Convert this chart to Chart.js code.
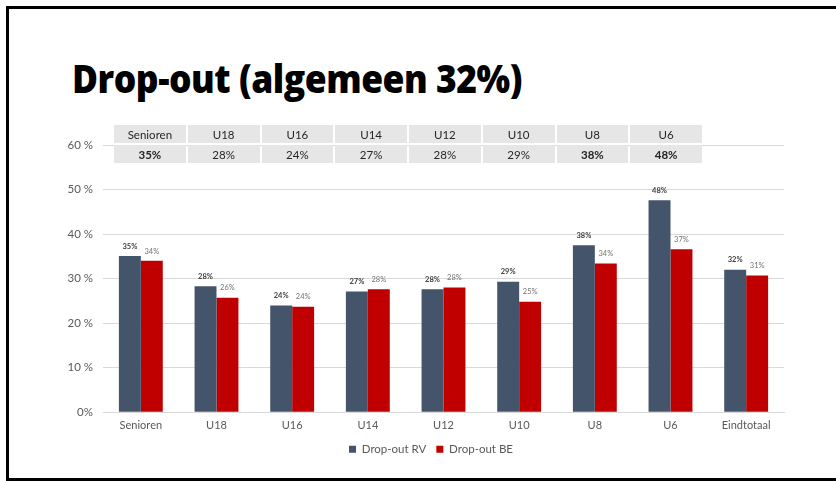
<!DOCTYPE html>
<html lang="nl">
<head>
  <meta charset="utf-8"/>
  <title>Drop-out (algemeen 32%)</title>
  <script src="https://cdn.jsdelivr.net/npm/chart.js"></script>
  <style>
    html,body{margin:0;padding:0;background:#fff;width:836px;height:481px;overflow:hidden}
    .frame{position:absolute;left:6px;top:6px;width:900px;height:475px;border:3px solid #000;box-sizing:border-box}
    #title{position:absolute;left:72px;top:52px;font-family:"Open Sans",sans-serif;font-weight:800;font-size:38px;color:#000;white-space:nowrap;transform-origin:left top;letter-spacing:-0.5px}
    .chart-box{position:absolute;left:0;top:0;width:836px;height:481px}
    table{position:absolute;left:114px;top:125px;border-collapse:separate;border-spacing:2px 2px;margin:-2px;font-family:Lato,sans-serif;font-size:11.5px;color:#262626}
    td{background:#e7e6e6;width:71.75px;height:18px;padding:0;text-align:center}
    td.b{font-weight:700}
  </style>
</head>
<body>
<div class="frame"></div>
<div id="title">Drop-out (algemeen 32%)</div>
<div class="chart-box"><canvas id="chart" width="836" height="481"></canvas></div>
<table id="tbl"><tr id="headRow"></tr><tr id="valRow"></tr></table>

<script>
const categories=['Senioren','U18','U16','U14','U12','U10','U8','U6','Eindtotaal'];
const dropoutRV=[35.1,28.3,24.0,27.1,27.6,29.3,37.5,47.6,32.0];
const dropoutBE=[34.0,25.7,23.7,27.6,28.0,24.8,33.4,36.6,30.7];
const labelsRV=['35%','28%','24%','27%','28%','29%','38%','48%','32%'];
const labelsBE=['34%','26%','24%','28%','28%','25%','34%','37%','31%'];
const yTickLabels=['0%','10 %','20 %','30 %','40 %','50 %','60 %'];
const tableHeads=['Senioren','U18','U16','U14','U12','U10','U8','U6'];
const tableVals=['35%','28%','24%','27%','28%','29%','38%','48%'];
const tableBold=[true,false,false,false,false,false,true,true];

// tabel bovenaan
const hr=document.getElementById('headRow'),vr=document.getElementById('valRow');
tableHeads.forEach((h,i)=>{
  const a=document.createElement('td');a.textContent=h;hr.appendChild(a);
  const b=document.createElement('td');b.textContent=tableVals[i];if(tableBold[i])b.className='b';vr.appendChild(b);
});

// titel op breedte brengen
const t=document.getElementById('title');
t.style.transform=`scaleX(${450/t.getBoundingClientRect().width})`;

const barLabels={
  id:'barLabels',
  afterDatasetsDraw(chart){
    const ctx=chart.ctx;
    const sets=[{lab:labelsRV,font:'bold 7.5px Lato',color:'#404040'},{lab:labelsBE,font:'7.5px Lato',color:'#767171'}];
    sets.forEach((s,di)=>{
      chart.getDatasetMeta(di).data.forEach((bar,i)=>{
        ctx.save();
        ctx.font=s.font;ctx.fillStyle=s.color;ctx.textAlign='center';ctx.textBaseline='bottom';
        ctx.fillText(s.lab[i],bar.x,bar.y-6);
        ctx.restore();
      });
    });
  }
};

// legenda iets verschuiven zoals in het origineel
const legendShift={
  id:'legendShift',
  afterLayout(chart){
    const l=chart.legend;if(!l)return;
    l.left+=14;l.right+=14;l.top-=6;l.bottom-=6;
  }
};

new Chart(document.getElementById('chart'),{
  type:'bar',
  data:{
    labels:categories,
    datasets:[
      {label:'Drop-out RV',data:dropoutRV,backgroundColor:'#44546a',categoryPercentage:0.58,barPercentage:1},
      {label:'Drop-out BE',data:dropoutBE,backgroundColor:'#c00000',categoryPercentage:0.58,barPercentage:1}
    ]
  },
  options:{
    responsive:false,
    animation:false,
    layout:{padding:{left:50,right:52,top:145,bottom:10}},
    scales:{
      x:{
        grid:{display:false,drawTicks:false},
        border:{display:true,color:'#d9d9d9'},
        ticks:{color:'#595959',font:{family:'Lato',size:11},padding:7}
      },
      y:{
        min:0,max:60,
        afterFit(s){s.width=53;},
        grid:{color:'#d9d9d9',drawTicks:false},
        border:{display:false},
        ticks:{stepSize:10,color:'#595959',font:{family:'Lato',size:11.5},padding:10,
          callback:(v)=>yTickLabels[v/10]}
      }
    },
    plugins:{
      legend:{position:'bottom',labels:{boxWidth:7,boxHeight:7,color:'#595959',font:{family:'Lato',size:11.5},padding:10}},
      tooltip:{enabled:false}
    }
  },
  plugins:[barLabels,legendShift]
});
</script>
</body>
</html>
